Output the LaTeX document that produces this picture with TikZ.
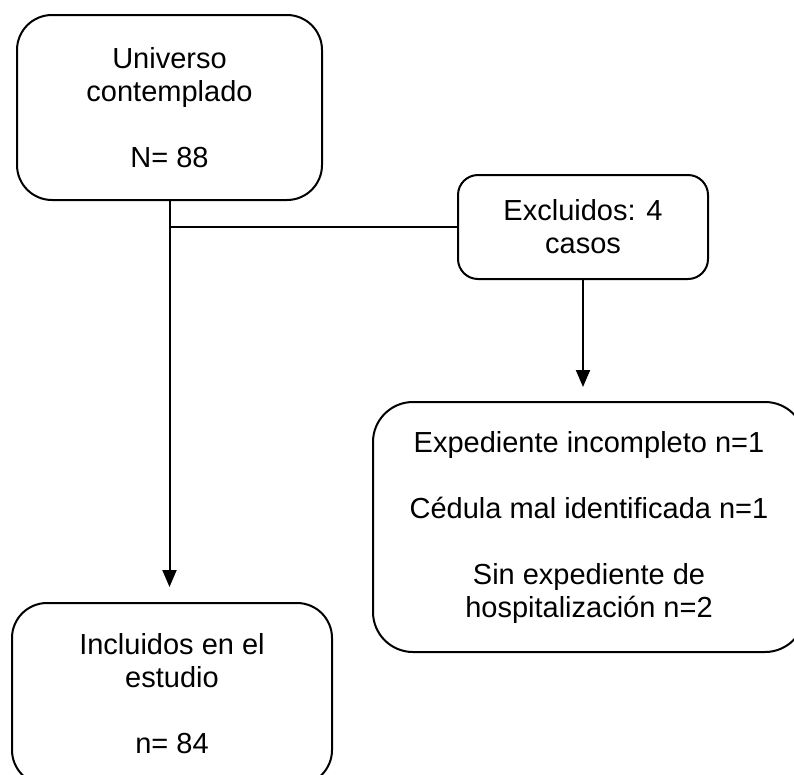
\documentclass[tikz,border=0pt]{standalone}
\usepackage{fontspec}
\setmainfont{Liberation Sans}
\usetikzlibrary{arrows.meta}
\begin{document}
\begin{tikzpicture}[x=1pt,y=-1pt,
  box/.style={draw, line width=2pt, rounded corners=#1, align=center, inner sep=0pt,
    font=\fontsize{29}{33}\selectfont},
  box/.default=35pt,
  conn/.style={line width=2pt},
  arr/.style={line width=2pt, -{Triangle[length=17pt,width=14pt]}}]
\useasboundingbox (0,0) rectangle (794,774);
\clip (0,0) rectangle (794,774);
\node[box, minimum width=305pt, minimum height=185pt] (u) at (169.5,107.5)
  {Universo\\contemplado\\[33pt]N= 88};
\node[box=20pt, minimum width=250pt, minimum height=104pt] (ex) at (583,227)
  {Excluidos: 4\\casos};
\node[box=40pt, minimum width=432pt, minimum height=250pt] (det) at (589,527)
  {Expediente incompleto n=1\\[33pt]C\'edula mal identificada n=1\\[33pt]Sin expediente de\\hospitalizaci\'on n=2};
\node[box, minimum width=320pt, minimum height=182pt] (inc) at (172,694)
  {Incluidos en el\\estudio\\[33pt]n= 84};
\coordinate (j) at (u.south |- ex.west);
\coordinate (tipL) at ([yshift=15pt]inc.north -| u.south);
\coordinate (tipR) at ([yshift=14pt]det.north -| ex.south);
\draw[conn] (u.south) -- (j);
\draw[arr] (j) -- (tipL);
\draw[conn] (j) -- (ex.west);
\draw[arr] (ex.south) -- (tipR);
\end{tikzpicture}
\end{document}
